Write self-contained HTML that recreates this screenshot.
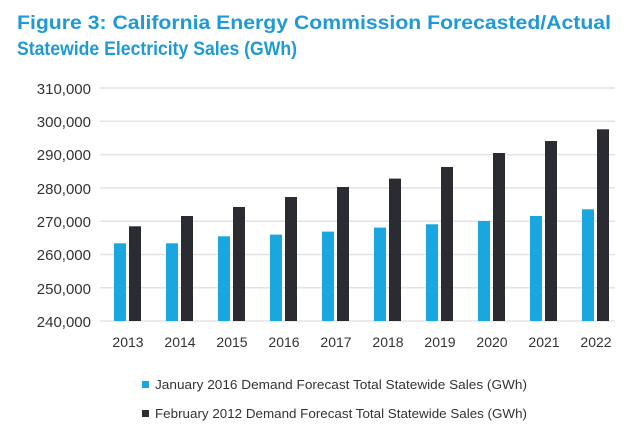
<!DOCTYPE html>
<html><head><style>body{margin:0;background:#fff}svg{display:block}</style></head>
<body>
<svg width="625" height="443" xmlns="http://www.w3.org/2000/svg" font-family="Liberation Sans, sans-serif">
<text x="17" y="29" font-size="19" font-weight="bold" fill="#1e9ad6" textLength="594" lengthAdjust="spacingAndGlyphs">Figure 3: California Energy Commission Forecasted/Actual</text>
<text x="17" y="55" font-size="19" font-weight="bold" fill="#1e9ad6" textLength="280" lengthAdjust="spacingAndGlyphs">Statewide Electricity Sales (GWh)</text>
<g stroke="#e3e3e3" stroke-width="1.5">
<line x1="100" x2="615" y1="88" y2="88"/><line x1="100" x2="615" y1="121.3" y2="121.3"/>
<line x1="100" x2="615" y1="154.6" y2="154.6"/><line x1="100" x2="615" y1="187.9" y2="187.9"/>
<line x1="100" x2="615" y1="221.2" y2="221.2"/><line x1="100" x2="615" y1="254.5" y2="254.5"/>
<line x1="100" x2="615" y1="287.8" y2="287.8"/><line x1="100" x2="615" y1="321" y2="321"/>
</g>
<g font-size="15" fill="#333" text-anchor="end">
<text x="91" y="94">310,000</text><text x="91" y="127">300,000</text><text x="91" y="160">290,000</text>
<text x="91" y="194">280,000</text><text x="91" y="227">270,000</text><text x="91" y="260">260,000</text>
<text x="91" y="294">250,000</text><text x="91" y="327">240,000</text>
</g>
<rect x="142" y="381" width="7" height="7" fill="#1aa6df"/>
<text x="155" y="389" font-size="13" fill="#333" textLength="372" lengthAdjust="spacingAndGlyphs">January 2016 Demand Forecast Total Statewide Sales (GWh)</text>
<rect x="142" y="410" width="7" height="7" fill="#2a2c31"/>
<text x="155" y="418" font-size="13" fill="#333" textLength="372" lengthAdjust="spacingAndGlyphs">February 2012 Demand Forecast Total Statewide Sales (GWh)</text>
<g>
<rect x="114" y="243.3" width="12" height="77.7" fill="#1aa6df"/><rect x="129" y="226.3" width="12" height="94.7" fill="#2a2c31"/>
<rect x="166" y="243.3" width="12" height="77.7" fill="#1aa6df"/><rect x="181" y="216" width="12" height="105" fill="#2a2c31"/>
<rect x="218" y="236.3" width="12" height="84.7" fill="#1aa6df"/><rect x="233" y="207" width="12" height="114" fill="#2a2c31"/>
<rect x="270" y="234.6" width="12" height="86.4" fill="#1aa6df"/><rect x="285" y="197" width="12" height="124" fill="#2a2c31"/>
<rect x="322" y="231.6" width="12" height="89.4" fill="#1aa6df"/><rect x="337" y="187" width="12" height="134" fill="#2a2c31"/>
<rect x="374" y="227.6" width="12" height="93.4" fill="#1aa6df"/><rect x="389" y="178.6" width="12" height="142.4" fill="#2a2c31"/>
<rect x="426" y="224.3" width="12" height="96.7" fill="#1aa6df"/><rect x="441" y="167" width="12" height="154" fill="#2a2c31"/>
<rect x="478" y="221" width="12" height="100" fill="#1aa6df"/><rect x="493" y="153" width="12" height="168" fill="#2a2c31"/>
<rect x="530" y="216" width="12" height="105" fill="#1aa6df"/><rect x="545" y="141" width="12" height="180" fill="#2a2c31"/>
<rect x="582" y="209.3" width="12" height="111.7" fill="#1aa6df"/><rect x="597" y="129.3" width="12" height="191.7" fill="#2a2c31"/>
</g>
<g font-size="14" fill="#333" text-anchor="middle">
<text x="128" y="347">2013</text><text x="180" y="347">2014</text><text x="232" y="347">2015</text>
<text x="284" y="347">2016</text><text x="336" y="347">2017</text><text x="388" y="347">2018</text>
<text x="440" y="347">2019</text><text x="492" y="347">2020</text><text x="544" y="347">2021</text>
<text x="596" y="347">2022</text>
</g>
</svg>
</body></html>
